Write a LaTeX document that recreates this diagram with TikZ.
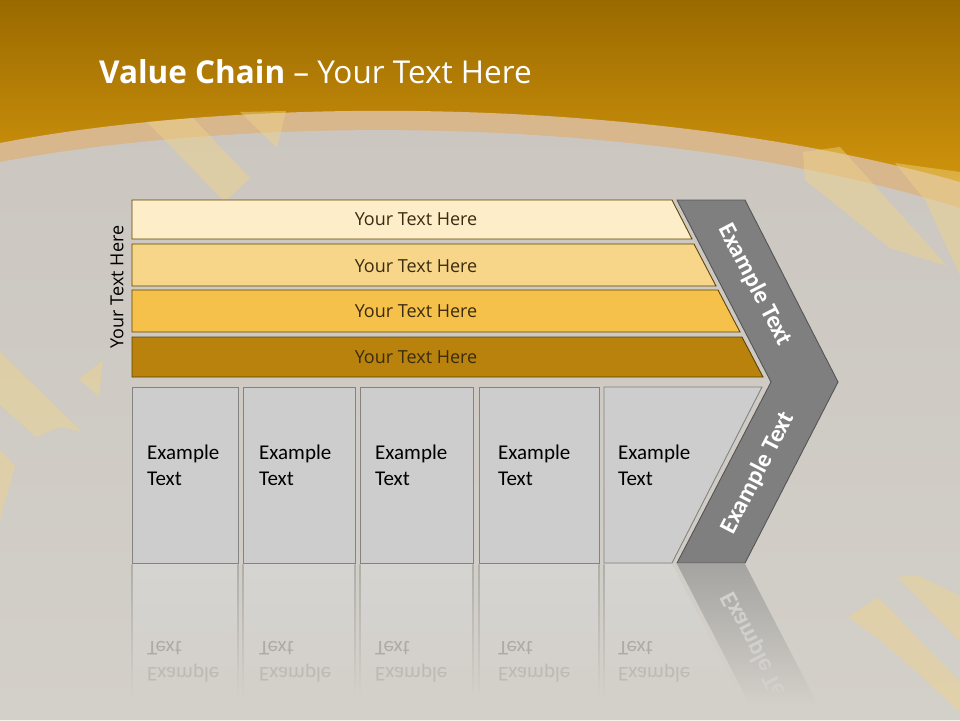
\documentclass[tikz,border=0pt]{standalone}
\usepackage{fontspec}
\setmainfont{Carlito}
\newfontfamily\osans{Open Sans}
\definecolor{goldtop}{HTML}{9A6A00}
\definecolor{goldbot}{HTML}{E0A010}
\definecolor{bandc}{HTML}{D8B78C}
\definecolor{greytop}{HTML}{CBC7C0}
\definecolor{greybot}{HTML}{D3CFC9}
\definecolor{decoc}{HTML}{F0D488}
\definecolor{barline}{HTML}{5E4306}
\definecolor{barA}{HTML}{FDEDC9}
\definecolor{barB}{HTML}{F8D689}
\definecolor{barC}{HTML}{F5C14A}
\definecolor{barD}{HTML}{B8820C}
\definecolor{bartxt}{HTML}{3A2C10}
\definecolor{cellfill}{HTML}{CDCDCD}
\definecolor{cellline}{HTML}{858380}
\definecolor{chevfill}{HTML}{7F7F7F}
\definecolor{chevline}{HTML}{555555}
\definecolor{refltop}{HTML}{D5D4D1}
\definecolor{refledge}{HTML}{B0AEAA}
\definecolor{reflchev}{HTML}{A5A4A1}
\definecolor{refltxtA}{HTML}{ADABA6}
\definecolor{refltxtB}{HTML}{BDBAB4}
\definecolor{reflchevtxt}{HTML}{D2D0CC}
\begin{document}
\begin{tikzpicture}[x=1pt,y=-1pt,
  barbox/.style={draw=barline, line width=0.9pt},
  cellbox/.style={draw=cellline, fill=cellfill, line width=0.9pt},
  bartext/.style={font=\osans\fontsize{18}{20}\selectfont, text=bartxt, inner sep=0pt},
  celltext/.style={font=\fontsize{21}{25}\selectfont, text=black, anchor=base west, inner sep=0pt},
  reftext/.style={font=\fontsize{21}{25}\selectfont, anchor=base west, inner sep=0pt, yscale=-1},
  chevtext/.style={font=\bfseries\fontsize{24.5}{27}\selectfont, text=white, inner sep=0pt},
  deco/.style={fill=decoc, fill opacity=0.45},
  refledgestyle/.style={top color=refledge, bottom color=greybot},
]
\useasboundingbox (0,0) rectangle (960,720);

% background
\shade[top color=goldtop, bottom color=goldbot] (0,0) rectangle (960,235);
\fill[bandc] (0,143) .. controls (250,95) and (650,95) .. (960,182) -- (960,720) -- (0,720) -- cycle;
\shade[top color=greytop, bottom color=greybot] (0,162) .. controls (250,115) and (650,112) .. (960,208) -- (960,720) -- (0,720) -- cycle;

% decorative brush strokes
\fill[deco] (147,122) -- (193,118) -- (250,178) -- (225,202) -- cycle;
\fill[deco] (240,112) -- (286,111) -- (277,148) -- cycle;
\fill[deco] (803,152) -- (840,147) -- (947,266) -- (890,248) -- (805,180) -- cycle;
\fill[deco] (895,163) -- (960,172) -- (960,275) -- (925,200) -- cycle;
\fill[deco] (0,352) -- (82,432) -- (60,427) -- (36,437) -- (0,405) -- cycle;
\fill[deco] (79,379) -- (103,360) -- (99,397) -- cycle;
\fill[deco] (0,450) -- (15,466) -- (0,520) -- cycle;
\fill[deco] (848,617) -- (878,597) -- (960,682) -- (960,712) -- (912,668) -- (880,640) -- cycle;
\fill[deco] (897,577) -- (917,575) -- (960,596) -- (960,642) -- (922,602) -- cycle;

% title
\node[anchor=base west, text=white, font=\osans\fontsize{31.5}{36}\selectfont, inner sep=0pt] (title) at (99,83) {\textbf{Value Chain} – Your Text Here};

% side label
\node[font=\osans\fontsize{18}{20}\selectfont, text=black, rotate=90, inner sep=0pt] (side) at (117,287) {Your Text Here};

% bars
\draw[barbox, fill=barA] (132,200) -- (672,200) -- (692,239) -- (132,239) -- cycle;
\draw[barbox, fill=barB] (132,244) -- (694,244) -- (716,286) -- (132,286) -- cycle;
\draw[barbox, fill=barC] (132,290) -- (718,290) -- (740,332) -- (132,332) -- cycle;
\draw[barbox, fill=barD] (132,337) -- (742,337) -- (763,377) -- (132,377) -- cycle;
\node[bartext] (b1) at (416,219) {Your Text Here};
\node[bartext] (b2) at (416,266) {Your Text Here};
\node[bartext] (b3) at (416,311) {Your Text Here};
\node[bartext] (b4) at (416,357) {Your Text Here};

% reflections
\shade[top color=refltop, bottom color=greybot] (132,564) rectangle (238,700);
\shade[top color=refltop, bottom color=greybot] (243,564) rectangle (355,700);
\shade[top color=refltop, bottom color=greybot] (360,564) rectangle (473,700);
\shade[top color=refltop, bottom color=greybot] (479,564) rectangle (599,700);
\shade[top color=refltop, bottom color=greybot] (604,564) -- (672,564) -- (742,700) -- (604,700) -- cycle;
\foreach \ex in {132,238,243,355,360,473,479,599,604}
  \shade[refledgestyle] (\ex-0.6,564) rectangle (\ex+0.6,698);
\shade[top color=reflchev, bottom color=greybot] (677,564) -- (745,564) -- (818,705) -- (750,705) -- cycle;
\foreach \ex/\nm in {147/r1,259/r2,375/r3,498/r4,618/r5}{
  \node[reftext, text=refltxtA] (\nm t) at (\ex,641) {Text};
  \node[reftext, text=refltxtB] (\nm e) at (\ex,667) {Example};
}
\begin{scope}
  \clip (660,564) rectangle (830,692);
  \node[chevtext, text=reflchevtxt, rotate=-62.7, yscale=-1] (rc) at (758,653) {Example Text};
\end{scope}

% cells
\draw[cellbox] (132,387) rectangle (238,563);
\draw[cellbox] (243,387) rectangle (355,563);
\draw[cellbox] (360,387) rectangle (473,563);
\draw[cellbox] (479,387) rectangle (599,563);
\draw[cellbox] (604,387) -- (762,387) -- (672,563) -- (604,563) -- cycle;
\foreach \ex/\nm in {147/c1,259/c2,375/c3,498/c4,618/c5}{
  \node[celltext] (\nm e) at (\ex,459) {Example};
  \node[celltext] (\nm t) at (\ex,485) {Text};
}

% chevron
\draw[draw=chevline, fill=chevfill, line width=0.9pt] (677,200) -- (745,200) -- (838,382) -- (745,563) -- (677,563) -- (771,382) -- cycle;
\node[chevtext, rotate=-62.7] (ch1) at (755,285) {Example Text};
\node[chevtext, rotate=62.7] (ch2) at (758,473) {Example Text};
\end{tikzpicture}
\end{document}
